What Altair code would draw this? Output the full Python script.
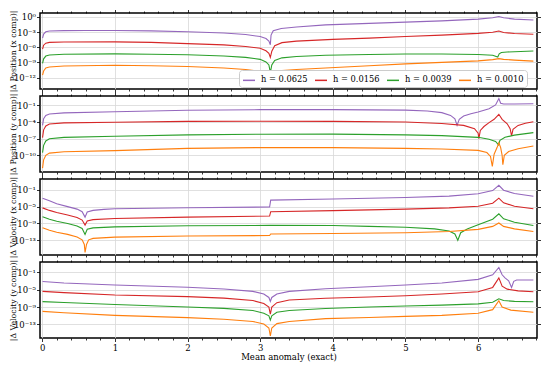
import altair as alt
import pandas as pd

SERIES = ["h = 0.0625", "h = 0.0156", "h = 0.0039", "h = 0.0010"]
COLORS = ["#9467bd", "#d62728", "#2ca02c", "#ff7f0e"]

# (mean anomaly, log10 |error|)
POSX_0625 = [(0.005, -4.2), (0.02, -3.4), (0.05, -2.95), (0.1, -2.8), (0.3, -2.72), (0.6, -2.69), (1.0, -2.69),
             (1.5, -2.78), (2.0, -2.94), (2.5, -3.2), (2.8, -3.5), (3.0, -3.9), (3.08, -4.3), (3.12, -4.8),
             (3.14, -5.5), (3.15, -3.6), (3.18, -2.75), (3.29, -2.3), (3.5, -2.0), (3.9, -1.6), (4.5, -1.3),
             (5.0, -1.05), (5.5, -0.8), (6.0, -0.45), (6.2, -0.2), (6.285, 0.06), (6.35, -0.2), (6.5, -0.45),
             (6.76, -0.63)]
POSX_0156 = [(0.005, -6.4), (0.02, -5.6), (0.05, -5.2), (0.1, -5.05), (0.3, -4.98), (1.0, -4.94), (1.5, -5.05),
             (2.0, -5.3), (2.5, -5.55), (2.8, -5.85), (3.0, -6.2), (3.08, -6.7), (3.12, -7.2), (3.14, -8.0),
             (3.16, -6.8), (3.2, -5.7), (3.3, -5.1), (3.5, -4.8), (4.0, -4.45), (4.5, -4.2), (5.0, -3.9),
             (5.5, -3.62), (6.0, -3.28), (6.2, -3.05), (6.285, -2.8), (6.35, -3.1), (6.5, -3.3), (6.76, -3.44)]
POSX_0039 = [(0.005, -9.2), (0.02, -8.3), (0.05, -7.75), (0.1, -7.55), (0.3, -7.4), (1.0, -7.31), (1.5, -7.4),
             (2.0, -7.5), (2.5, -7.75), (2.8, -8.0), (3.0, -8.4), (3.08, -8.9), (3.12, -9.5), (3.14, -11.0),
             (3.16, -9.5), (3.2, -8.6), (3.3, -8.1), (3.5, -7.85), (3.9, -7.6), (4.5, -7.45), (5.0, -7.35),
             (5.5, -7.35), (6.0, -7.45), (6.2, -7.6), (6.27, -7.95), (6.29, -7.3), (6.32, -7.05), (6.4, -6.95),
             (6.76, -6.75)]
POSX_0010 = [(0.005, -11.5), (0.02, -10.7), (0.05, -10.1), (0.1, -9.9), (0.3, -9.7), (1.0, -9.56), (1.5, -9.65),
             (2.0, -9.8), (2.5, -10.1), (2.8, -10.4), (3.0, -10.75), (3.08, -11.2), (3.12, -11.7), (3.14, -12.5),
             (3.16, -11.5), (3.2, -10.9), (3.3, -10.6), (3.5, -10.4), (3.9, -10.1), (4.5, -9.65), (5.0, -9.3),
             (5.5, -9.0), (6.0, -8.7), (6.2, -8.45), (6.285, -8.25), (6.35, -8.4), (6.5, -8.55), (6.76, -8.75)]

POSY_0625 = [(0.005, -4.6), (0.02, -3.4), (0.05, -2.8), (0.1, -2.55), (0.3, -2.35), (1.0, -2.15), (2.0, -1.88),
             (3.0, -1.76), (4.0, -1.75), (5.0, -1.85), (5.3, -2.0), (5.5, -2.3), (5.62, -2.8), (5.68, -3.4),
             (5.71, -4.6), (5.74, -3.5), (5.8, -2.9), (5.9, -2.5), (6.0, -2.2), (6.15, -1.6), (6.24, -0.9),
             (6.285, 0.25), (6.31, -0.6), (6.35, -0.75), (6.5, -0.74), (6.76, -0.7)]
POSY_0156 = [(0.005, -6.8), (0.02, -5.4), (0.05, -4.7), (0.1, -4.35), (0.3, -4.15), (1.0, -4.02), (2.0, -3.88),
             (3.0, -3.85), (4.0, -3.88), (5.0, -4.0), (5.5, -4.25), (5.8, -4.6), (5.95, -5.2), (6.0, -6.0),
             (6.01, -7.0), (6.03, -5.5), (6.08, -4.8), (6.15, -4.1), (6.22, -3.5), (6.285, -2.6), (6.33, -3.5),
             (6.4, -4.3), (6.44, -5.2), (6.46, -6.5), (6.48, -5.3), (6.55, -4.6), (6.65, -4.2), (6.76, -3.95)]
POSY_0039 = [(0.005, -9.5), (0.02, -8.2), (0.05, -7.4), (0.1, -7.0), (0.3, -6.75), (1.0, -6.55), (2.0, -6.3),
             (3.0, -6.2), (4.0, -6.18), (5.0, -6.3), (5.5, -6.45), (6.0, -6.75), (6.15, -7.1), (6.24, -7.5),
             (6.28, -8.1), (6.3, -7.3), (6.37, -6.75), (6.5, -6.35), (6.76, -5.9)]
POSY_0010 = [(0.005, -12.3), (0.02, -10.8), (0.05, -10.0), (0.1, -9.6), (0.3, -9.35), (1.0, -9.14), (2.0, -8.75),
             (3.0, -8.6), (4.0, -8.6), (5.0, -8.75), (5.5, -8.85), (6.0, -9.1), (6.12, -9.5), (6.17, -10.2),
             (6.195, -12.0), (6.22, -9.8), (6.26, -8.6), (6.285, -7.72), (6.31, -8.6), (6.33, -10.0),
             (6.34, -11.7), (6.36, -10.0), (6.42, -9.3), (6.55, -8.8), (6.76, -8.3)]

VELX_0625 = [(0.005, -3.0), (0.1, -3.6), (0.2, -4.3), (0.35, -5.0), (0.48, -5.6), (0.55, -6.2), (0.59, -7.5),
             (0.62, -6.3), (0.7, -5.9), (0.85, -5.65), (1.0, -5.5), (2.0, -5.26), (3.13, -5.1), (3.145, -3.45),
             (4.0, -3.2), (5.0, -2.84), (5.6, -2.5), (6.0, -1.96), (6.2, -1.2), (6.285, 0.05), (6.35, -1.1),
             (6.5, -1.9), (6.76, -2.54)]
VELX_0156 = [(0.005, -5.3), (0.1, -5.9), (0.2, -6.4), (0.35, -7.0), (0.48, -7.6), (0.55, -8.2), (0.59, -9.4),
             (0.62, -8.4), (0.7, -8.1), (1.0, -7.84), (2.0, -7.5), (3.13, -7.25), (3.145, -6.22), (4.0, -5.95),
             (5.0, -5.6), (5.6, -5.3), (6.0, -4.9), (6.2, -4.2), (6.285, -3.0), (6.35, -4.1), (6.5, -4.9),
             (6.76, -5.5)]
VELX_0039 = [(0.005, -7.4), (0.1, -8.0), (0.2, -8.5), (0.35, -9.0), (0.48, -9.6), (0.55, -10.2), (0.59, -11.6),
             (0.62, -10.4), (0.7, -10.05), (1.0, -9.82), (2.0, -9.55), (3.14, -9.46), (4.0, -9.5), (4.5, -9.7),
             (5.0, -9.9), (5.4, -10.3), (5.6, -10.8), (5.68, -11.5), (5.72, -13.0), (5.76, -11.2), (5.85, -10.3),
             (6.0, -9.3), (6.2, -8.0), (6.285, -6.7), (6.35, -7.9), (6.5, -8.7), (6.76, -9.5)]
VELX_0010 = [(0.005, -10.0), (0.1, -10.6), (0.2, -11.1), (0.35, -11.6), (0.48, -12.2), (0.55, -12.9),
             (0.58, -14.0), (0.59, -15.9), (0.61, -14.0), (0.64, -12.9), (0.7, -12.55), (1.0, -12.25),
             (2.0, -12.0), (3.13, -11.88), (3.145, -11.5), (4.0, -11.4), (5.0, -11.2), (5.6, -10.9),
             (6.0, -10.4), (6.2, -9.7), (6.285, -8.9), (6.35, -9.7), (6.5, -10.3), (6.76, -10.9)]

VELY_0625 = [(0.005, -3.15), (0.3, -3.5), (1.0, -3.95), (2.0, -4.45), (2.5, -4.85), (2.9, -5.4), (3.05, -6.0),
             (3.12, -6.8), (3.14, -7.7), (3.16, -6.8), (3.23, -6.0), (3.4, -5.4), (3.9, -4.8), (4.5, -4.35),
             (5.0, -3.95), (5.5, -3.5), (6.0, -2.65), (6.2, -1.6), (6.285, 0.08), (6.33, -1.6), (6.37, -2.3),
             (6.42, -3.0), (6.46, -4.5), (6.49, -3.1), (6.53, -2.8), (6.76, -2.8)]
VELY_0156 = [(0.005, -5.4), (0.3, -5.7), (1.0, -6.25), (2.0, -6.61), (2.5, -6.95), (2.9, -7.5), (3.05, -8.2),
             (3.12, -9.0), (3.14, -10.6), (3.16, -9.0), (3.23, -8.0), (3.4, -7.4), (3.9, -7.0), (4.5, -6.7),
             (5.0, -6.4), (5.5, -6.0), (6.0, -5.5), (6.2, -4.5), (6.285, -2.3), (6.33, -4.2), (6.4, -4.9),
             (6.55, -5.3), (6.76, -5.5)]
VELY_0039 = [(0.005, -7.75), (0.3, -7.95), (1.0, -8.4), (2.0, -8.99), (2.5, -9.3), (2.9, -9.8), (3.05, -10.4),
             (3.12, -11.0), (3.14, -12.0), (3.16, -11.0), (3.23, -10.2), (3.4, -9.8), (3.9, -9.35), (4.5, -9.0),
             (5.0, -8.77), (5.5, -8.55), (6.0, -8.27), (6.2, -7.9), (6.285, -7.1), (6.35, -7.5), (6.5, -7.7),
             (6.76, -7.8)]
VELY_0010 = [(0.005, -10.0), (0.3, -10.3), (1.0, -10.9), (2.0, -11.43), (2.5, -11.8), (2.9, -12.3), (3.05, -12.9),
             (3.12, -13.8), (3.14, -15.6), (3.16, -13.8), (3.23, -12.8), (3.4, -12.3), (3.9, -11.65),
             (4.5, -11.4), (5.0, -11.14), (5.5, -10.9), (6.0, -10.42), (6.2, -9.6), (6.285, -7.55), (6.33, -9.0),
             (6.45, -9.7), (6.76, -10.2)]

PANEL_TITLES = ["|Δ Position (x comp)|", "|Δ Position (y comp)|", "|Δ Velocity (x comp)|", "|Δ Velocity (y comp)|"]
PANEL_SERIES = [
    [POSX_0625, POSX_0156, POSX_0039, POSX_0010],
    [POSY_0625, POSY_0156, POSY_0039, POSY_0010],
    [VELX_0625, VELX_0156, VELX_0039, VELX_0010],
    [VELY_0625, VELY_0156, VELY_0039, VELY_0010],
]
PANEL_TICK_EXP = [[0, -3, -6, -9, -12], [-1, -4, -7, -10], [-1, -5, -9, -13], [-1, -5, -9, -13]]
PANEL_YLIM_EXP = [(-14.25, 0.75), (-13.0, 0.7), (-16.5, 1.56), (-16.1, 1.33)]
X_DOMAIN = [-0.03, 6.81]
X_TICKS = [0, 0.2, 0.4, 0.6, 0.8, 1, 1.2, 1.4, 1.6, 1.8, 2, 2.2, 2.4, 2.6, 2.8, 3, 3.2, 3.4, 3.6, 3.8,
           4, 4.2, 4.4, 4.6, 4.8, 5, 5.2, 5.4, 5.6, 5.8, 6, 6.2, 6.4, 6.6, 6.8]

W = 497
H = 76

rows = []
for p, lists in enumerate(PANEL_SERIES):
    for name, pts in zip(SERIES, lists):
        for k, (x, lg) in enumerate(pts):
            rows.append({"panel": p, "series": name, "x": x, "y": 10 ** lg, "k": k})
df = pd.DataFrame(rows)

INT_TEST = "abs(datum.value - round(datum.value)) < 0.01"
EXP = "toString(round(log(datum.value) / LN10))"
sup = EXP
for a, b in [("-", "⁻"), ("0", "⁰"), ("1", "¹"), ("2", "²"), ("3", "³"), ("4", "⁴"),
             ("5", "⁵"), ("6", "⁶"), ("7", "⁷"), ("8", "⁸"), ("9", "⁹")]:
    sup = f"replace({sup}, '{a}', '{b}')"
YLABEL = "'10' + " + sup
FONT = "DejaVu Serif"


def make_panel(p):
    last = p == len(PANEL_SERIES) - 1
    lo, hi = PANEL_YLIM_EXP[p]
    d = df[df.panel == p]
    xs = alt.Scale(domain=X_DOMAIN, nice=False, zero=False)
    ys = alt.Scale(type="log", domain=[10 ** lo, 10 ** hi], nice=False)
    yvals = [10.0 ** e for e in PANEL_TICK_EXP[p]]
    tick_cond = {"condition": {"test": INT_TEST, "value": 3.5}, "value": 2}
    x_axis = alt.Axis(
        values=X_TICKS, orient="bottom", grid=True,
        gridOpacity={"condition": {"test": INT_TEST, "value": 1}, "value": 0},
        tickSize=tick_cond, labels=last, labelOverlap=False, labelFlush=False,
        labelExpr=f"{INT_TEST} ? format(datum.value, 'd') : ''", labelPadding=1.5, titlePadding=1,
    )
    y_axis = alt.Axis(
        values=yvals, labelExpr=YLABEL, grid=True, tickSize=3.5, labelPadding=1,
        title=PANEL_TITLES[p], titleX=-23, titleY=H / 2, titleBaseline="bottom", titleFontSize=7.8,
    )
    if p == 0:
        color = alt.Color("series:N", scale=alt.Scale(domain=SERIES, range=COLORS), sort=SERIES,
                          legend=alt.Legend(orient="none", legendX=199, legendY=57, direction="horizontal",
                                            title=None, symbolType="stroke", symbolStrokeWidth=1.5,
                                            symbolSize=144, labelFont=FONT, labelFontSize=8.3,
                                            fillColor="white", strokeColor="#cccccc", padding=3,
                                            cornerRadius=3, columnPadding=4, labelOffset=5))
    else:
        color = alt.Color("series:N", scale=alt.Scale(domain=SERIES, range=COLORS), sort=SERIES, legend=None)
    lines = alt.Chart(d).mark_line(strokeWidth=1.1, clip=True).encode(
        x=alt.X("x:Q", scale=xs, axis=x_axis, title="Mean anomaly (exact)" if last else None),
        y=alt.Y("y:Q", scale=ys, axis=y_axis),
        color=color,
        order="k:Q",
    )
    ghost = alt.Chart(d).mark_point(opacity=0).encode(
        x=alt.X("x:Q", scale=xs, title=None,
                axis=alt.Axis(orient="top", values=X_TICKS, labels=False, grid=False, tickSize=tick_cond)),
        y=alt.Y("y:Q", scale=ys, title=None,
                axis=alt.Axis(orient="right", values=yvals, labels=False, grid=False, tickSize=3.5)),
    )
    return alt.layer(lines, ghost).resolve_axis(x="independent", y="independent").properties(width=W, height=H)


chart = alt.vconcat(*[make_panel(p) for p in range(4)], spacing=7, bounds="flush", padding=0).resolve_scale(
    color="independent"
).configure_view(stroke="black", strokeWidth=1.5).configure_axis(
    labelFont=FONT, titleFont=FONT, labelFontSize=8.5, titleFontSize=8.5, titleFontWeight="normal",
    labelColor="black", titleColor="black", tickColor="black", tickWidth=0.8, domain=False,
    gridColor="#d8d8d8", gridWidth=0.8,
)

chart.save("out.html", embed_options={"renderer": "svg", "actions": False})
